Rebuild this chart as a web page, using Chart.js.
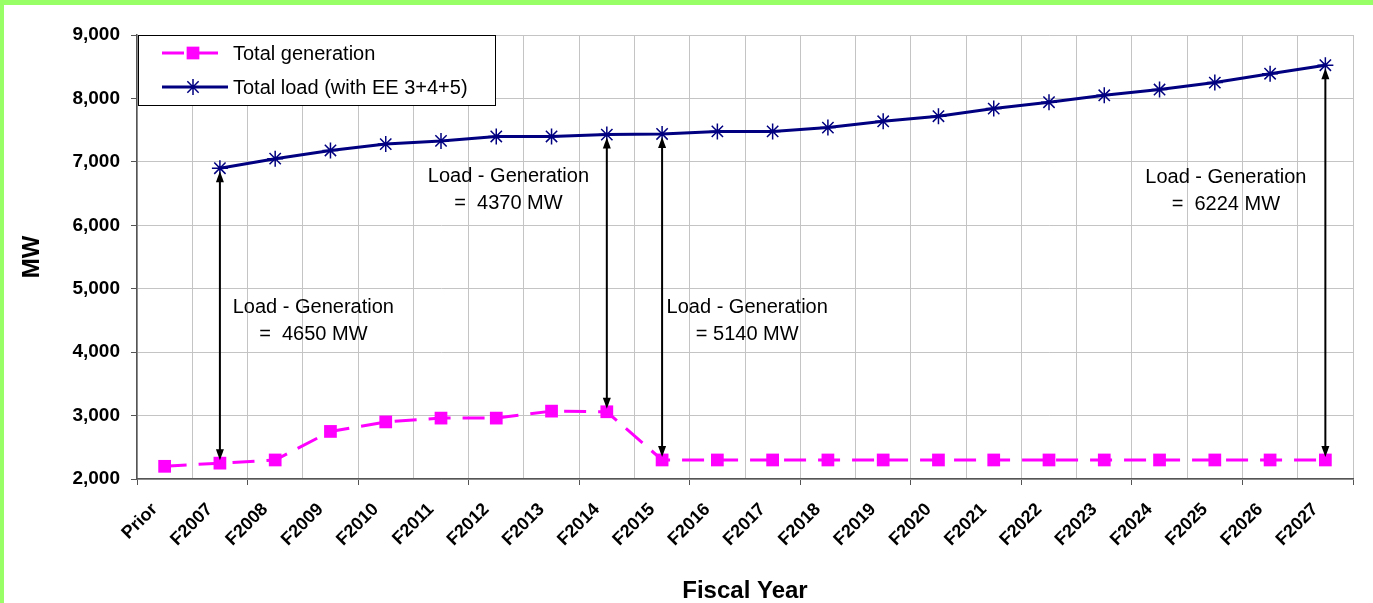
<!DOCTYPE html>
<html>
<head>
<meta charset="utf-8">
<title>Total load vs total generation</title>
<script src="https://cdn.jsdelivr.net/npm/chart.js@4.4.1/dist/chart.umd.min.js"></script>
<style>
    html, body { margin: 0; padding: 0; background: #fff; }
    canvas { display: block; }
</style>
</head>
<body>
<canvas id="loadChart" width="1373" height="603"></canvas>
<script>
// Fiscal years on the x axis
const years = ["Prior", "F2007", "F2008", "F2009", "F2010", "F2011", "F2012", "F2013",
    "F2014", "F2015", "F2016", "F2017", "F2018", "F2019", "F2020", "F2021",
    "F2022", "F2023", "F2024", "F2025", "F2026", "F2027"];

// MW
const totalGeneration = [2200, 2250, 2300, 2750, 2900, 2960, 2960, 3070,
    3060, 2300, 2300, 2300, 2300, 2300, 2300, 2300,
    2300, 2300, 2300, 2300, 2300, 2300];
const totalLoad = [null, 6900, 7050, 7180, 7280, 7330, 7400, 7400,
    7430, 7440, 7480, 7480, 7540, 7640, 7720, 7840,
    7940, 8050, 8140, 8250, 8390, 8524];

// years where the load - generation gap is marked with an arrow
const gapYears = ["F2007", "F2014", "F2015", "F2027"];

const colors = {
    generation: "#ff00ff",
    load: "#000080",
    grid: "#c4c4c4",
    axis: "#555555",
    frame: "#99ff66",
};

const FONT = "'Liberation Sans', Arial, Helvetica, sans-serif";
Chart.defaults.font.family = FONT;
Chart.defaults.color = "#000";

// where each gap label sits (category position, value at first baseline)
const gapNotes = [
    { at: 2.69, baseline: 4610, eq: "=  " },
    { at: 6.22, baseline: 6680, eq: "=  " },
    { at: 10.54, baseline: 4610, eq: "= " },
    { at: 19.2, baseline: 6670, eq: "=  " },
];

// green strip along the top and left edge
const framePlugin = {
    id: "frame",
    afterDraw(chart) {
        const ctx = chart.ctx;
        ctx.save();
        ctx.fillStyle = colors.frame;
        ctx.fillRect(0, 0, chart.width, 5);
        ctx.fillRect(0, 0, 4, chart.height);
        ctx.restore();
    },
};

function arrowHead(ctx, x, y, dir) {
    ctx.beginPath();
    ctx.moveTo(x, y);
    ctx.lineTo(x - 4, y + dir * 11);
    ctx.lineTo(x + 4, y + dir * 11);
    ctx.closePath();
    ctx.fill();
}

// double arrows between the two series, with their labels
const gapPlugin = {
    id: "gaps",
    afterDatasetsDraw(chart) {
        const ctx = chart.ctx;
        const xs = chart.scales.x;
        const ys = chart.scales.y;
        ctx.save();
        ctx.strokeStyle = "#000";
        ctx.fillStyle = "#000";
        ctx.lineWidth = 2;
        gapYears.forEach((year, n) => {
            const i = years.indexOf(year);
            const x = xs.getPixelForValue(i);
            const yTop = ys.getPixelForValue(totalLoad[i]) + 3;
            const yBot = ys.getPixelForValue(totalGeneration[i]) - 3;
            ctx.beginPath();
            ctx.moveTo(x, yTop + 6);
            ctx.lineTo(x, yBot - 6);
            ctx.stroke();
            arrowHead(ctx, x, yTop, 1);
            arrowHead(ctx, x, yBot, -1);

            const note = gapNotes[n];
            const diff = Math.round(totalLoad[i] - totalGeneration[i]);
            const tx = xs.getPixelForValue(note.at);
            const ty = ys.getPixelForValue(note.baseline);
            ctx.font = "20px " + FONT;
            ctx.textAlign = "center";
            ctx.textBaseline = "alphabetic";
            ctx.fillText("Load - Generation", tx, ty);
            ctx.fillText(note.eq + diff + " MW", tx, ty + 27);
        });
        ctx.restore();
    },
};

// boxed legend in the top-left corner of the plot
const legendPlugin = {
    id: "boxLegend",
    afterDatasetsDraw(chart) {
        const ctx = chart.ctx;
        const area = chart.chartArea;
        const left = area.left + 1;
        const top = area.top;
        ctx.save();
        ctx.fillStyle = "#fff";
        ctx.fillRect(left, top, 357, 70);
        ctx.strokeStyle = "#000";
        ctx.lineWidth = 1;
        ctx.strokeRect(left + 0.5, top + 0.5, 357, 70);

        const rows = [top + 18, top + 52];
        chart.data.datasets.forEach((ds, k) => {
            const y = rows[k];
            ctx.strokeStyle = ds.borderColor;
            ctx.lineWidth = 3;
            ctx.setLineDash(ds.borderDash || []);
            ctx.beginPath();
            ctx.moveTo(left + 24, y);
            ctx.lineTo(left + 90, y);
            ctx.stroke();
            ctx.setLineDash([]);

            ctx.fillStyle = ds.pointBackgroundColor;
            ctx.strokeStyle = ds.pointBorderColor;
            ctx.lineWidth = ds.pointBorderWidth;
            Chart.helpers.drawPoint(ctx, {
                pointStyle: ds.pointStyle,
                radius: ds.pointRadius,
                borderWidth: ds.pointBorderWidth,
                rotation: 0,
            }, left + 55, y);

            ctx.fillStyle = "#000";
            ctx.font = "20px " + FONT;
            ctx.textAlign = "left";
            ctx.textBaseline = "middle";
            ctx.fillText(ds.label, left + 95, y + 1);
        });
        ctx.restore();
    },
};

const loadCanvas = document.getElementById("loadChart");
if (loadCanvas) {
    new Chart(loadCanvas.getContext("2d"), {
        type: "line",
        data: {
            labels: years,
            datasets: [
                {
                    label: "Total generation",
                    data: totalGeneration,
                    borderColor: colors.generation,
                    backgroundColor: colors.generation,
                    borderWidth: 3,
                    borderDash: [22, 12],
                    pointStyle: "rect",
                    pointRadius: 9,
                    pointBorderWidth: 0,
                    pointBackgroundColor: colors.generation,
                    pointBorderColor: colors.generation,
                    tension: 0,
                },
                {
                    label: "Total load (with EE 3+4+5)",
                    data: totalLoad,
                    borderColor: colors.load,
                    backgroundColor: colors.load,
                    borderWidth: 3,
                    pointStyle: "star",
                    pointRadius: 8,
                    pointBorderWidth: 1.5,
                    pointBackgroundColor: colors.load,
                    pointBorderColor: colors.load,
                    tension: 0,
                },
            ],
        },
        options: {
            responsive: false,
            animation: false,
            devicePixelRatio: 1,
            layout: {
                padding: { top: 35, right: 20, left: 0, bottom: 0 },
            },
            plugins: {
                legend: { display: false },
                tooltip: { enabled: false },
            },
            scales: {
                x: {
                    type: "category",
                    offset: true,
                    grid: {
                        offset: true,
                        color: colors.grid,
                        lineWidth: 1,
                        tickLength: 6,
                        tickColor: (c) => (c.index === undefined || c.index % 2 === 0) ? colors.axis : "rgba(0,0,0,0)",
                    },
                    border: { color: colors.axis, width: 1.5 },
                    ticks: {
                        autoSkip: false,
                        maxRotation: 45,
                        minRotation: 45,
                        padding: 14,
                        labelOffset: -10,
                        font: { size: 18, weight: "bold" },
                        color: "#000",
                    },
                    title: {
                        display: true,
                        text: "Fiscal Year",
                        font: { size: 24, weight: "bold", lineHeight: 1 },
                        padding: { top: 0, bottom: 0 },
                        color: "#000",
                    },
                    afterFit(scale) {
                        scale.height = 124;
                    },
                },
                y: {
                    min: 2000,
                    max: 9000,
                    grid: {
                        color: colors.grid,
                        lineWidth: 1,
                        tickLength: 6,
                        tickColor: colors.axis,
                    },
                    border: { color: colors.axis, width: 1.5 },
                    ticks: {
                        stepSize: 1000,
                        padding: 11,
                        font: { size: 19, weight: "bold" },
                        color: "#000",
                        callback: (v) => v.toLocaleString("en-US"),
                    },
                    title: {
                        display: true,
                        text: "MW",
                        font: { size: 24, weight: "bold", lineHeight: 1.1 },
                        padding: { top: 19, bottom: 0 },
                        color: "#000",
                    },
                    afterFit(scale) {
                        scale.width = 137;
                    },
                },
            },
        },
        plugins: [gapPlugin, legendPlugin, framePlugin],
    });
} else {
    console.error("loadChart element not found");
}
</script>
</body>
</html>
